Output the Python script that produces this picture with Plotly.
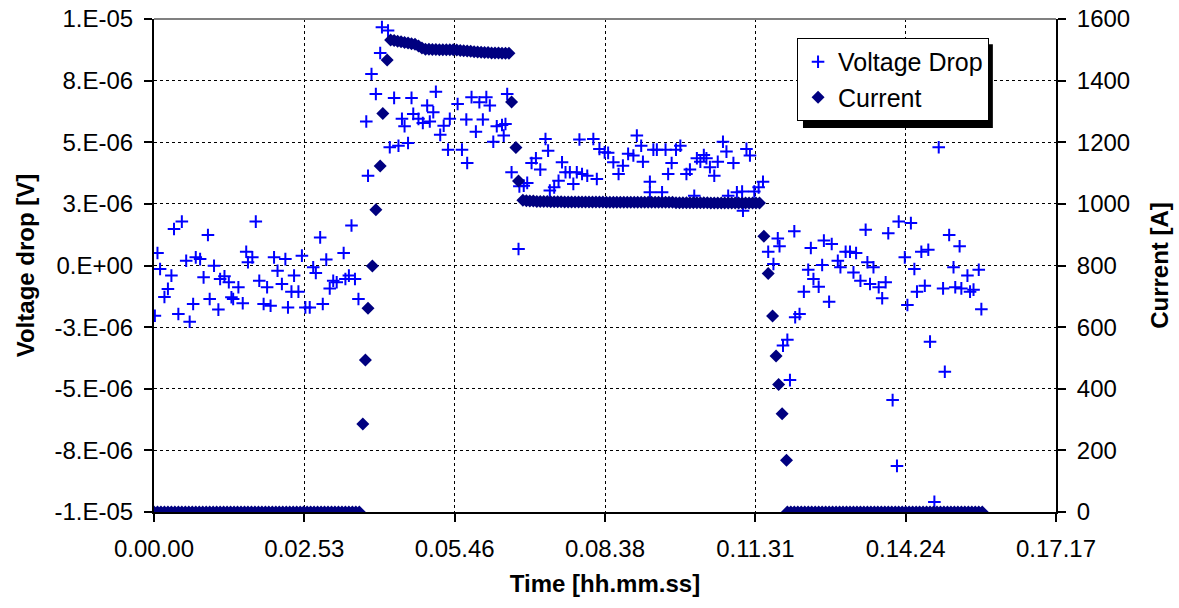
import plotly.graph_objects as go

# ---------------- data ----------------
# time axis ticks (seconds) and their hh.mm.ss labels
time_tick_s = [0, 172.8, 345.6, 518.4, 691.2, 864.0, 1036.8]
time_tick_labels = ["0.00.00", "0.02.53", "0.05.46", "0.08.38", "0.11.31", "0.14.24", "0.17.17"]

voltage_tick_v = [-1e-5, -7.5e-6, -5e-6, -2.5e-6, 0, 2.5e-6, 5e-6, 7.5e-6, 1e-5]
voltage_tick_labels = ["-1.E-05", "-8.E-06", "-5.E-06", "-3.E-06", "0.E+00",
                       "3.E-06", "5.E-06", "8.E-06", "1.E-05"]
current_tick_a = [0, 200, 400, 600, 800, 1000, 1200, 1400, 1600]

# Voltage drop samples: time [s] and value [microvolt]
voltage_time_s = [
    1, 4, 7, 12, 16, 20, 23, 28, 32, 37, 41, 45, 48, 53, 57, 62, 64, 69, 74, 76,
    81, 86, 89, 91, 97, 102, 106, 108, 113, 117, 121, 126, 130, 134, 138, 142, 147, 151, 154, 158,
    161, 166, 170, 174, 179, 183, 186, 191, 194, 198, 202, 206, 210, 218, 220, 224, 227, 231, 235,
    244, 246, 250, 255, 260, 262, 269, 271, 276, 281, 285, 288, 292, 296, 298, 304, 309, 314, 317, 321,
    324, 329, 333, 338, 340, 349, 354, 359, 360, 365, 370, 374, 378, 382, 386, 390, 394, 400, 402, 404,
    406, 411, 419, 420, 425, 429, 434, 439, 444, 450, 453, 455, 460, 465, 469, 473, 478, 482, 486, 489,
    492, 498, 505, 509, 512, 518, 522, 528, 534, 539, 545, 551, 555, 560, 562, 570, 570, 574, 578, 584,
    588, 591, 595, 600, 605, 612, 616, 621, 624, 628, 632, 635, 639, 644, 648, 654, 658, 660, 666, 670,
    676, 677, 681, 685, 690, 695, 700,
    706, 712, 717, 719, 723, 728, 731, 736, 737, 742, 747, 752, 755, 758, 764, 768, 770, 776, 779, 786,
    789, 795, 800, 804, 807, 812, 818, 820, 823, 827, 833, 837, 841, 844, 849, 854, 856, 863, 866, 870,
    874, 877, 882, 886, 890, 892, 897, 902, 907, 909, 914, 919, 921, 926, 928, 935, 938, 942, 948, 951,
]
voltage_drop_uv = [
    -2.04, 0.51, -0.14, -1.28, -0.95, -0.41, 1.48, -1.97, 1.78, 0.19, -2.28, -1.56, 0.33, 0.26, -0.48, 1.24, -1.36, -0.01, -1.79, -0.55,
    -0.44, -0.68, -1.29, -1.36, -0.88, -1.53, 0.56, 0.13, 0.33, 1.78, -0.62, -1.56, -0.88, -1.63, 0.33, -0.21, -0.75, 0.26, -1.70, -1.06,
    -0.41, -1.06, 0.40, -1.70, -1.70, -0.07, -0.30, 1.14, -1.56, 0.24, -0.93, -0.62, -0.68, 0.51, -0.55, -0.41, 1.62, -0.55, -1.36,
    5.84, 3.64, 7.77, 6.96, 8.62, 9.67, 9.53, 4.80, 6.80, 4.86, 5.95, 5.65, 4.97, 6.80, 6.15, 5.95, 5.78, 6.49, 5.84, 6.22,
    7.05, 5.30, 5.67, 4.70, 5.95, 6.55, 4.70, 5.92, 4.16, 6.83, 5.43, 6.62, 5.92, 6.83, 6.49, 5.02, 5.65, 5.70, 5.27, 5.74,
    6.96, 3.78, 0.67, 3.21, 3.24, 3.35, 4.16, 4.35, 3.89, 5.13, 4.66, 3.04, 3.17, 3.44, 4.19, 3.78, 3.78, 3.31, 3.78, 5.11,
    3.71, 3.64, 5.13, 3.51, 4.73, 4.59, 4.57, 4.19, 3.71, 4.05, 4.53, 4.46, 5.27, 4.86, 4.21, 2.97, 3.40, 4.70, 4.70, 2.97,
    4.70, 3.71, 4.16, 4.70, 4.86, 3.71, 3.89, 2.83, 4.35, 4.21, 4.48, 4.35, 3.99, 3.64, 4.21, 5.02, 4.62, 2.83, 4.16, 2.97,
    3.00, 2.22, 4.73, 4.46, 3.00, 3.17, 3.40,
    0.56, 0.06, 1.10, 0.78, -3.25, -3.01, -4.65, 1.39, -2.10, -1.97, -1.06, -0.17, 0.71, -0.55, -0.86, 0.02, 1.01, -1.47, 0.87, 0.19,
    -0.07, 0.56, 0.56, -0.28, 0.51, -0.62, 1.45, 0.13, -0.75, -0.07, -0.88, -1.33, -0.68, 1.31, -5.46, -8.13, 1.78, 0.33, -1.60, 1.72,
    -0.14, -1.06, 0.56, -0.82, 0.64, -3.09, -9.59, 4.80, -0.93, -4.31, 1.24, -0.07, -0.88, 0.78, -0.93, -0.41, -1.06, -0.98, -0.17, -1.77,
]

# Current samples: time [s] and value [A]
current_time_s = [
    0, 4, 8, 12, 16, 20, 24, 28, 32, 36, 40, 44, 48, 52, 56, 60, 64, 68, 72, 76,
    80, 84, 88, 92, 96, 100, 104, 108, 112, 116, 120, 124, 128, 132, 136, 140, 144, 148, 152, 156,
    160, 164, 168, 172, 176, 180, 184, 188, 192, 196, 200, 204, 208, 212, 216, 220, 224, 228, 232, 236,
    240, 243, 246, 251, 255, 260, 263, 268,
    272, 276, 280, 284, 288, 292, 296, 300, 304, 308, 312, 316, 320, 324, 328, 332, 336, 340, 344, 348,
    352, 356, 360, 364, 368, 372, 376, 380, 384, 388, 392, 396, 400, 404, 408,
    411, 416, 419,
    424, 428, 432, 436, 440, 444, 448, 452, 456, 460, 464, 468, 472, 476, 480, 484, 488, 492, 496, 500,
    504, 508, 512, 516, 520, 524, 528, 532, 536, 540, 544, 548, 552, 556, 560, 564, 568, 572, 576, 580,
    584, 588, 592, 596, 600, 604, 608, 612, 616, 620, 624, 628, 632, 636, 640, 644, 648, 652, 656, 660,
    664, 668, 672, 676, 680, 684, 688, 692, 696,
    701, 706, 711, 715, 718, 722, 727,
    728, 732, 736, 740, 744, 748, 752, 756, 760, 764, 768, 772, 776, 780, 784, 788, 792, 796, 800, 804,
    808, 812, 816, 820, 824, 828, 832, 836, 840, 844, 848, 852, 856, 860, 864, 868, 872, 876, 880, 884,
    888, 892, 896, 900, 904, 908, 912, 916, 920, 924, 928, 932, 936, 940, 944, 948, 952,
]
current_a = [
    0, 0, 0, 0, 0, 0, 0, 0, 0, 0, 0, 0, 0, 0, 0, 0, 0, 0, 0, 0,
    0, 0, 0, 0, 0, 0, 0, 0, 0, 0, 0, 0, 0, 0, 0, 0, 0, 0, 0, 0,
    0, 0, 0, 0, 0, 0, 0, 0, 0, 0, 0, 0, 0, 0, 0, 0, 0, 0, 0, 0,
    286, 493, 661, 798, 981, 1123, 1293, 1467,
    1532, 1530, 1528, 1526, 1524, 1522, 1520, 1518, 1512, 1506, 1502, 1502, 1501, 1501, 1500, 1500, 1500, 1500, 1500, 1499,
    1498, 1497, 1496, 1495, 1494, 1493, 1492, 1491, 1491, 1490, 1490, 1490, 1489, 1489, 1489,
    1331, 1183, 1074,
    1012, 1010, 1009, 1009, 1008, 1008, 1008, 1008, 1007, 1007, 1007, 1007, 1006, 1006, 1006, 1006, 1006, 1006, 1006, 1006,
    1006, 1006, 1006, 1006, 1005, 1005, 1005, 1005, 1005, 1005, 1005, 1005, 1005, 1005, 1005, 1005, 1005, 1005, 1005, 1005,
    1005, 1005, 1005, 1005, 1004, 1004, 1004, 1004, 1004, 1004, 1004, 1004, 1004, 1004, 1003, 1003, 1003, 1003, 1003, 1003,
    1003, 1003, 1003, 1003, 1003, 1003, 1003, 1003, 1003,
    895, 774, 636, 506, 414, 319, 168,
    0, 0, 0, 0, 0, 0, 0, 0, 0, 0, 0, 0, 0, 0, 0, 0, 0, 0, 0, 0,
    0, 0, 0, 0, 0, 0, 0, 0, 0, 0, 0, 0, 0, 0, 0, 0, 0, 0, 0, 0,
    0, 0, 0, 0, 0, 0, 0, 0, 0, 0, 0, 0, 0, 0, 0, 0, 0,
]

# ---------------- figure ----------------
FONT = "Liberation Sans, Arial, Helvetica, sans-serif"
FS = 24

fig = go.Figure()
fig.add_trace(go.Scatter(
    x=voltage_time_s, y=[v * 1e-6 for v in voltage_drop_uv],
    mode="markers", name="Voltage Drop", yaxis="y",
    marker=dict(symbol="cross-thin", size=9, color="#0000FF",
                line=dict(color="#0000FF", width=2)),
))
fig.add_trace(go.Scatter(
    x=current_time_s, y=current_a,
    mode="markers", name="Current", yaxis="y2",
    marker=dict(symbol="diamond", size=10, color="#000080", line=dict(width=0)),
))

axis_common = dict(
    showline=True, linecolor="black", linewidth=2,
    ticks="outside", ticklen=8, tickwidth=1.5, tickcolor="black",
    tickfont=dict(family=FONT, size=FS, color="black"),
    zeroline=False, automargin=False, ticklabeloverflow="allow",
)

fig.update_layout(
    width=1179, height=608, autosize=False,
    margin=dict(l=154, r=123, t=19, b=96, pad=0),
    paper_bgcolor="white", plot_bgcolor="white",
    font=dict(family=FONT, size=FS, color="black"),
    xaxis=dict(
        range=[0, 1036.8], tickmode="array", tickvals=time_tick_s, ticktext=time_tick_labels,
        showgrid=True, gridcolor="black", gridwidth=1, griddash="dot",
        ticklabelstandoff=6,
        title=dict(text="<b>Time [hh.mm.ss]</b>", font=dict(family=FONT, size=FS), standoff=14),
        **axis_common,
    ),
    yaxis=dict(
        range=[-1e-5, 1e-5], tickmode="array", tickvals=voltage_tick_v, ticktext=voltage_tick_labels,
        showgrid=True, gridcolor="black", gridwidth=1, griddash="dot",
        ticklabelstandoff=6,
        title=dict(text="<b>Voltage drop [V]</b>", font=dict(family=FONT, size=FS), standoff=13),
        **axis_common,
    ),
    yaxis2=dict(
        range=[0, 1600], tickmode="array", tickvals=current_tick_a,
        overlaying="y", side="right", showgrid=False,
        ticklabelstandoff=6,
        title=dict(text="<b>Current [A]</b>", font=dict(family=FONT, size=FS), standoff=22),
        **axis_common,
    ),
    yaxis3=dict(
        range=[0, 1600], tickmode="array", tickvals=current_tick_a,
        overlaying="y", side="right", showgrid=False, showline=False,
        showticklabels=False, ticks="inside", ticklen=8, tickwidth=1.5, tickcolor="black",
        zeroline=False,
    ),
    legend=dict(
        x=0.7129, y=0.9615, xanchor="left", yanchor="top",
        bgcolor="white", bordercolor="black", borderwidth=1,
        font=dict(family=FONT, size=25, color="black"),
        traceorder="normal", tracegroupgap=14,
    ),
    showlegend=True,
)

# gray top border of plot area and legend drop shadow
fig.add_shape(type="line", xref="paper", yref="paper", x0=0, x1=1, y0=1, y1=1,
              line=dict(color="#808080", width=2))
fig.add_shape(type="rect", xref="paper", yref="paper", x0=0.7195, x1=0.930, y0=0.779, y1=0.949,
              fillcolor="black", line=dict(width=0), layer="above")

# remove the default 8 px page margin so the figure fills the window exactly
fig.write_html("out.html", config={"displayModeBar": False},
               post_script="document.body.style.margin='0px';")
